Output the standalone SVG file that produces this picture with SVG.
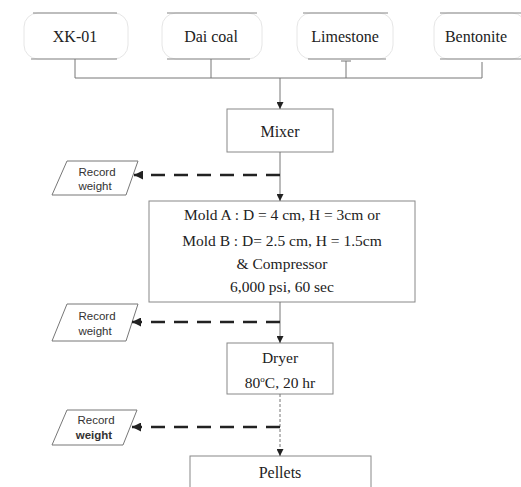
<svg xmlns="http://www.w3.org/2000/svg" width="521" height="487" viewBox="0 0 521 487">
<defs>
<style>
.t{font-family:"Liberation Serif","Times New Roman",serif;fill:#222;text-anchor:middle}
.s{font-family:"Liberation Sans",Arial,sans-serif;fill:#333;text-anchor:middle;font-size:11.5px}
.box{fill:#fff;stroke:#888;stroke-width:1}
.src{fill:#fff;stroke:#e6e6e6;stroke-width:1}
.edge{stroke:#888;stroke-width:1.2}
.ln{fill:none;stroke:#777;stroke-width:1}
.dash{fill:none;stroke:#222;stroke-width:2.5;stroke-dasharray:14 9}
.par{fill:#fff;stroke:#777;stroke-width:1}
</style>
<marker id="ah" viewBox="0 0 10 10" refX="10" refY="5" markerWidth="7" markerHeight="7" orient="auto-start-reverse" markerUnits="userSpaceOnUse">
<path d="M0,0 L10,5 L0,10 z" fill="#222"/>
</marker>
<marker id="ah2" viewBox="0 0 10 10" refX="10" refY="5" markerWidth="11" markerHeight="9" orient="auto" markerUnits="userSpaceOnUse">
<path d="M0,0 L10,5 L0,10 z" fill="#222"/>
</marker>
</defs>
<rect width="521" height="487" fill="#fff"/>

<g id="xk01">
<rect class="src" x="24" y="13" width="104" height="46" rx="14"/>
<line class="edge" x1="33" y1="13" x2="117" y2="13"/>
<line class="edge" x1="31" y1="59" x2="117" y2="59"/>
<text class="t" font-family="Liberation Serif, serif" x="75" y="42" font-size="16">XK-01</text>
</g>
<g id="daicoal">
<rect class="src" x="162" y="13" width="100" height="46" rx="14"/>
<line class="edge" x1="167" y1="13" x2="257" y2="13"/>
<line class="edge" x1="167" y1="59" x2="250" y2="59"/>
<text class="t" font-family="Liberation Serif, serif" x="211" y="42" font-size="16">Dai coal</text>
</g>
<g id="limestone">
<rect class="src" x="297" y="13" width="96" height="46" rx="14"/>
<line class="edge" x1="303" y1="13" x2="388" y2="13"/>
<line class="edge" x1="308" y1="59" x2="386" y2="59"/>
<text class="t" font-family="Liberation Serif, serif" x="345" y="42" font-size="16">Limestone</text>
</g>
<g id="bentonite">
<rect class="src" x="434" y="13" width="92" height="46" rx="14"/>
<line class="edge" x1="440" y1="13" x2="521" y2="13"/>
<line class="edge" x1="440" y1="59" x2="521" y2="59"/>
<text class="t" font-family="Liberation Serif, serif" x="476" y="42" font-size="16">Bentonite</text>
</g>

<g id="mixer">
<rect class="box" x="227" y="109" width="106" height="43"/>
<text class="t" font-family="Liberation Serif, serif" x="280" y="137" font-size="16">Mixer</text>
</g>

<g id="mold">
<rect class="box" x="149" y="201" width="266" height="101"/>
<text class="t" font-family="Liberation Serif, serif" x="282" y="220" font-size="15.5">Mold A : D = 4 cm, H = 3cm or</text>
<text class="t" font-family="Liberation Serif, serif" x="282" y="246" font-size="15.5">Mold B : D= 2.5 cm, H = 1.5cm</text>
<text class="t" font-family="Liberation Serif, serif" x="282" y="269" font-size="15.5">&amp; Compressor</text>
<text class="t" font-family="Liberation Serif, serif" x="282" y="292" font-size="15.5">6,000 psi, 60 sec</text>
</g>

<g id="dryer">
<rect class="box" x="227" y="343" width="106" height="51"/>
<text class="t" font-family="Liberation Serif, serif" x="280" y="363" font-size="15.5">Dryer</text>
<text class="t" font-family="Liberation Serif, serif" x="280" y="388" font-size="15.5">80<tspan font-size="9" dy="-6">o</tspan><tspan dy="6">C, 20 hr</tspan></text>
</g>

<g id="pellets">
<rect class="box" x="190" y="456" width="181" height="40"/>
<text class="t" font-family="Liberation Serif, serif" x="280" y="478" font-size="16">Pellets</text>
</g>

<g id="record1">
<polygon class="par" points="67,161 138,161 126,195 52,195"/>
<text class="s" x="97" y="176">Record</text>
<text class="s" x="95" y="190">weight</text>
</g>
<g id="record2">
<polygon class="par" points="67,304 138,304 126,341 52,341"/>
<text class="s" x="97" y="320">Record</text>
<text class="s" x="95" y="335">weight</text>
</g>
<g id="record3">
<polygon class="par" points="67,410 137,410 123,445 52,445"/>
<text class="s" x="96" y="424">Record</text>
<text class="s" x="94" y="439" font-weight="bold">weight</text>
</g>

<g id="connectors">
<polyline class="ln" points="75,59 75,78 482,78 482,62"/>
<line class="ln" x1="211" y1="59" x2="211" y2="78"/>
<line class="ln" x1="346" y1="61" x2="346" y2="78"/>
<line class="ln" x1="341" y1="61" x2="351" y2="61"/>
<line class="ln" x1="280" y1="78" x2="280" y2="109" marker-end="url(#ah)"/>
<line class="ln" x1="280" y1="152" x2="280" y2="201" marker-end="url(#ah)"/>
<line class="ln" x1="280" y1="302" x2="280" y2="343" marker-end="url(#ah)"/>
<line class="ln" x1="280" y1="394" x2="280" y2="456" stroke-dasharray="3 2" marker-end="url(#ah)"/>
<line class="dash" x1="280" y1="175" x2="134" y2="175" marker-end="url(#ah2)"/>
<line class="dash" x1="280" y1="322" x2="132" y2="322" marker-end="url(#ah2)"/>
<line class="dash" x1="280" y1="427" x2="132" y2="427" marker-end="url(#ah2)"/>
</g>
</svg>
